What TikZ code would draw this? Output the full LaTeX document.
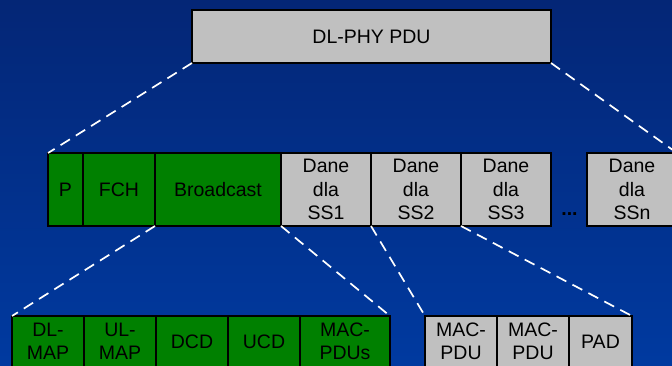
\documentclass[tikz,border=0pt]{standalone}
\usepackage{fontspec}
\setmainfont{Liberation Sans}
\begin{document}
\begin{tikzpicture}[x=1pt, y=-1pt,
  cell/.style={draw=black, line width=1.6pt, inner sep=0pt, outer sep=0pt,
    anchor=north west, align=center, text=black,
    font=\fontsize{19.5}{23.5}\selectfont},
  grn/.style={cell, fill=pduGreen},
  gry/.style={cell, fill=pduGray},
  link/.style={draw=white, line width=1.7pt, dash pattern=on 11pt off 7pt}]
\definecolor{pduGreen}{RGB}{0,128,0}
\definecolor{pduGray}{RGB}{192,192,192}
\definecolor{bgTop}{RGB}{4,38,118}
\definecolor{bgBot}{RGB}{0,58,160}

% slide background
\useasboundingbox (0,0) rectangle (672,365);
\clip (0,0) rectangle (672,365);
\shade[top color=bgTop, bottom color=bgBot] (0,0) rectangle (672,365);

% top level frame
\node[gry, minimum width=359pt, minimum height=53pt] (phy) at (192,10) {DL-PHY PDU};

% burst layout
\node[grn, minimum width=35pt,  minimum height=73pt] (p)    at (48,153)  {P};
\node[grn, minimum width=72pt,  minimum height=73pt] (fch)  at (83,153)  {FCH};
\node[grn, minimum width=126pt, minimum height=73pt] (bc)   at (155,153) {Broadcast};
\node[gry, minimum width=90pt,  minimum height=73pt] (ss1)  at (281,153) {Dane\\dla\\SS1};
\node[gry, minimum width=90pt,  minimum height=73pt] (ss2)  at (371,153) {Dane\\dla\\SS2};
\node[gry, minimum width=90pt,  minimum height=73pt] (ss3)  at (461,153) {Dane\\dla\\SS3};
\node[gry, minimum width=90pt,  minimum height=73pt] (ssn)  at (587,153) {Dane\\dla\\SSn};
\node[anchor=base, inner sep=0pt, text=black, font=\fontsize{19.5}{23.5}\selectfont\bfseries] (dots) at (569.5,215) {...};

% broadcast contents
\node[grn, minimum width=72pt, minimum height=51pt] (dlmap)  at (12,316)  {DL-\\MAP};
\node[grn, minimum width=72pt, minimum height=51pt] (ulmap)  at (84,316)  {UL-\\MAP};
\node[grn, minimum width=72pt, minimum height=51pt] (dcd)    at (156,316) {DCD};
\node[grn, minimum width=72pt, minimum height=51pt] (ucd)    at (228,316) {UCD};
\node[grn, minimum width=90pt, minimum height=51pt] (macs)   at (300,316) {MAC-\\PDUs};

% per-station burst contents
\node[gry, minimum width=72pt, minimum height=51pt] (mac1) at (425,316) {MAC-\\PDU};
\node[gry, minimum width=72pt, minimum height=51pt] (mac2) at (497,316) {MAC-\\PDU};
\node[gry, minimum width=63pt, minimum height=51pt] (pad)  at (569,316) {PAD};

% expansion lines
\draw[link] (phy.south west) -- (p.north west);
\draw[link] (phy.south east) -- (ssn.north east);
\draw[link] (bc.south west) -- (dlmap.north west);
\draw[link] (bc.south east) -- (macs.north east);
\draw[link] (ss2.south west) -- (mac1.north west);
\draw[link] (ss2.south east) -- (pad.north east);
\end{tikzpicture}
\end{document}
